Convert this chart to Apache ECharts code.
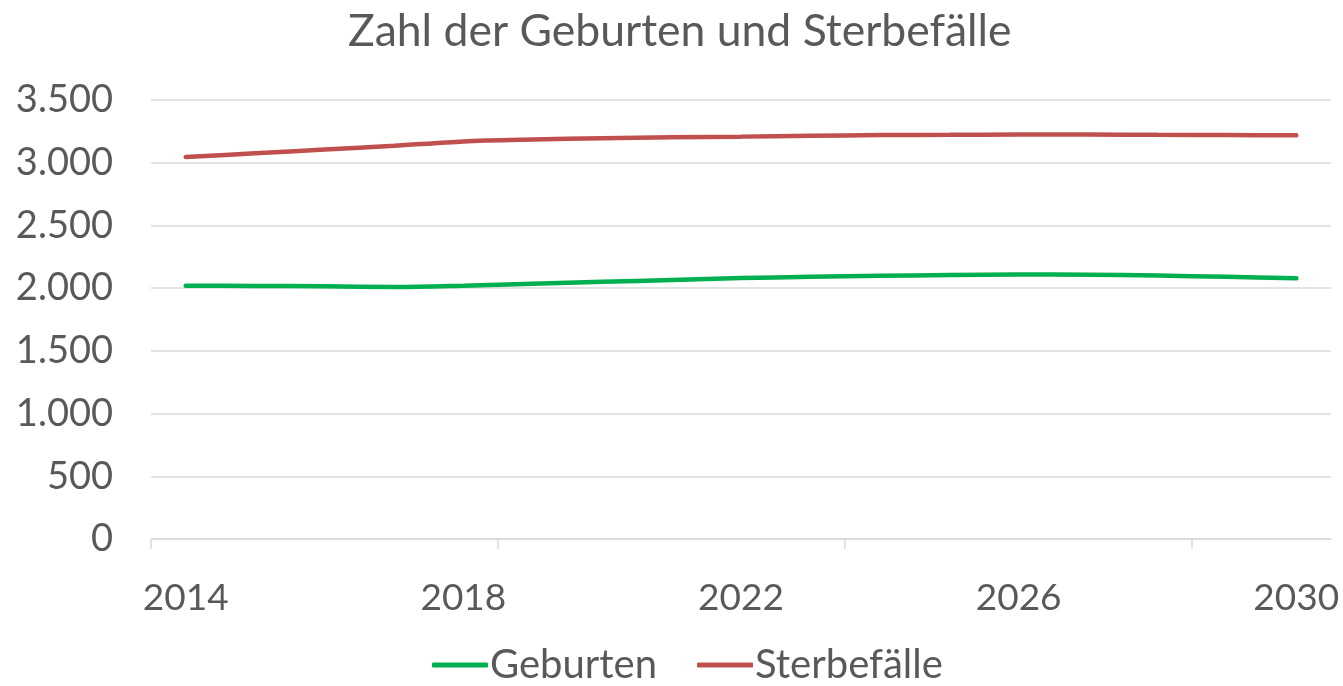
<!DOCTYPE html>
<html>
<head>
<meta charset="utf-8">
<script src="https://cdn.jsdelivr.net/npm/echarts@6/dist/echarts.min.js"></script>
<style>html,body{margin:0;padding:0;background:#fff}#c{width:1343px;height:686px}</style>
</head>
<body>
<div id="c"></div>
<script>
const years = ['2014','2015','2016','2017','2018','2019','2020','2021','2022','2023','2024','2025','2026','2027','2028','2029','2030'];
const geburten = [2020,2018,2015,2010,2020,2035,2050,2065,2080,2090,2098,2105,2108,2107,2100,2090,2078];
const sterbefaelle = [3045,3075,3105,3135,3170,3185,3195,3203,3208,3215,3220,3222,3225,3225,3222,3220,3218];
const tickBoundaries = [0, 5, 10, 15];
const titleText = 'Zahl der Geburten und Sterbefälle';

function fmt(v){ return String(v).replace(/\B(?=(\d{3})+(?!\d))/g, '.'); }

const chart = echarts.init(document.getElementById('c'));
const font = 'Lato, "Open Sans", sans-serif';
chart.setOption({
  animation: false,
  title: { text: titleText, left: 343, top: 4,
    textStyle: { fontFamily: font, fontSize: 44.5, fontWeight: 'normal', color: '#595959' } },
  legend: { bottom: -4, left: 427, itemWidth: 56, itemHeight: 5, itemGap: 40,
    icon: 'roundRect',
    textStyle: { fontFamily: font, fontSize: 40, color: '#595959', padding: [0,0,0,-3] },
    data: ['Geburten','Sterbefälle'] },
  grid: { left: 151, right: 12, top: 100, bottom: 147, containLabel: false },
  xAxis: [
    { type: 'category', data: years, boundaryGap: true,
      axisLine: { lineStyle: { color: '#d9d9d9', width: 1.5 } },
      axisTick: { show: false },
      axisLabel: { interval: 3, fontFamily: font, fontSize: 37, color: '#595959', margin: 41 } },
    { type: 'value', min: 0, max: years.length, position: 'bottom',
      axisLine: { show: false }, splitLine: { show: false },
      axisLabel: { show: false },
      axisTick: { show: true, customValues: tickBoundaries, length: 10, lineStyle: { color: '#d9d9d9', width: 1.5 } } }
  ],
  yAxis: { type: 'value', min: 0, max: 3500, interval: 500,
    axisLine: { show: false }, axisTick: { show: false },
    splitLine: { lineStyle: { color: '#d9d9d9', width: 1.5 } },
    axisLabel: { formatter: fmt, fontFamily: font, fontSize: 38, color: '#595959', margin: 38 } },
  series: [
    { name: 'Geburten', type: 'line', data: geburten, smooth: 0.3, showSymbol: false,
      lineStyle: { color: '#00B050', width: 4.5, cap: 'round' }, itemStyle: { color: '#00B050' } },
    { name: 'Sterbefälle', type: 'line', data: sterbefaelle, smooth: 0.3, showSymbol: false,
      lineStyle: { color: '#C0504D', width: 4.5, cap: 'round' }, itemStyle: { color: '#C0504D' } }
  ]
});
</script>
</body>
</html>
